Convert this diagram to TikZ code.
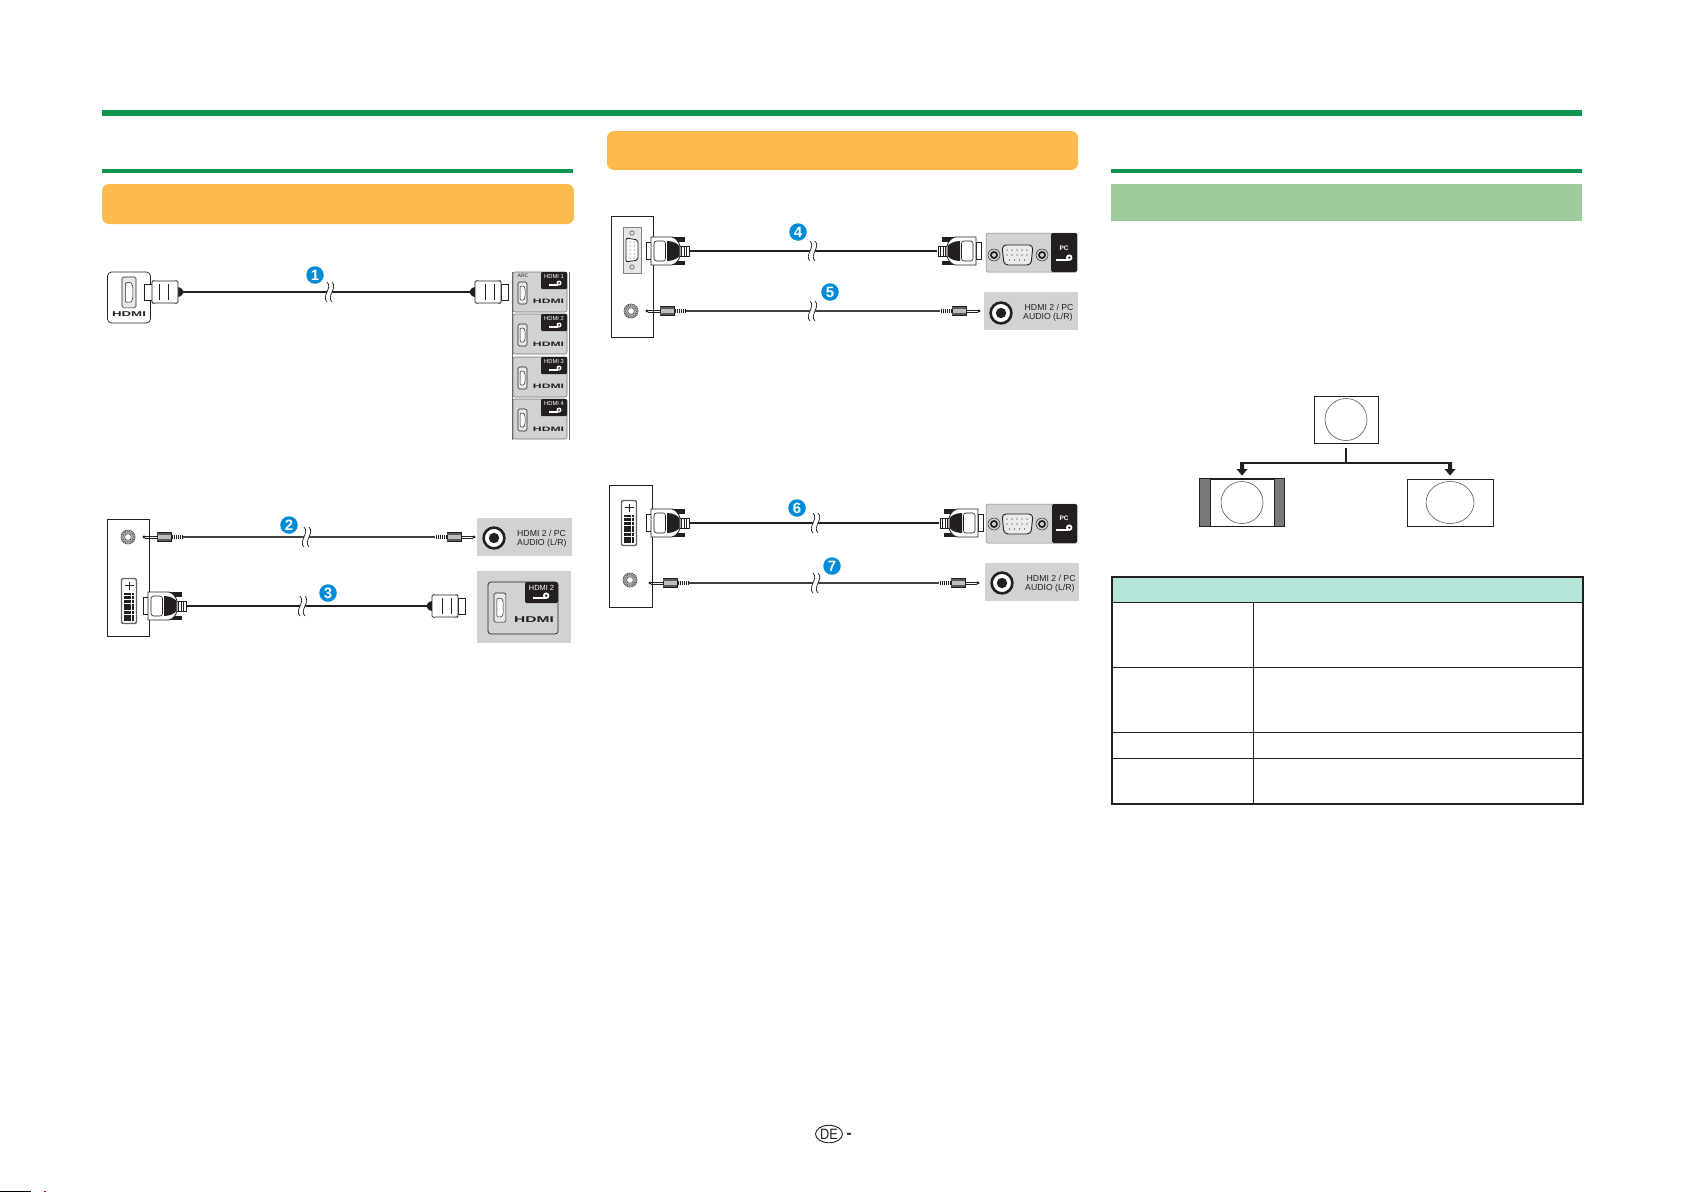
\documentclass[tikz,border=0pt]{standalone}
\usepackage{fontspec}
\setmainfont{Liberation Sans}
\usepackage{graphicx}
\usetikzlibrary{shapes.geometric}
\definecolor{rulegreen}{RGB}{12,150,78}
\definecolor{barorange}{RGB}{252,187,76}
\definecolor{bargreen}{RGB}{156,204,155}
\definecolor{headmint}{RGB}{181,230,218}
\definecolor{inkk}{RGB}{35,31,32}
\definecolor{panelgrey}{RGB}{209,210,212}
\definecolor{bargrey}{RGB}{122,120,121}
\definecolor{badgeblue}{RGB}{0,139,214}
\tikzset{
  x=1pt,y=-1pt,
  cable/.style={draw=inkk,line width=1.3pt},
  audiocable/.style={draw=inkk!85,line width=1.2pt},
  bandrule/.style={fill=rulegreen,draw=none},
  orangebar/.style={fill=barorange,draw=none,rounded corners=7pt},
  badge/.style={circle,fill=badgeblue,inner sep=0pt,minimum size=17.5pt,text=white,font=\bfseries\fontsize{15}{15}\selectfont},
  greypanel/.style={fill=panelgrey,draw=none},
  audiotext/.style={font=\fontsize{8.7}{9}\selectfont,text=inkk,align=left,anchor=west,inner sep=0pt},
  tabtext/.style={font=\fontsize{5.8}{6}\selectfont,text=white,inner sep=0pt},
  hlogo/.style={font=\bfseries\fontsize{6.4}{7}\selectfont,text=inkk,inner sep=0pt},
  hlogobig/.style={font=\bfseries\fontsize{8.4}{9}\selectfont,text=inkk,inner sep=0pt},
  screen/.style={draw=inkk,line width=0.8pt,fill=white},
  pict/.style={draw=black!65,line width=0.6pt},
  treeline/.style={draw=inkk,line width=1.5pt},
  tblthick/.style={draw=inkk,line width=1.6pt},
  tblthin/.style={draw=inkk,line width=0.8pt},
  breakmark/.pic={
    \fill[white] (-3,-7) .. controls (1,-3) and (-7,3) .. (-3,7) -- (2,7) .. controls (6,3) and (-2,-3) .. (2,-7) -- cycle;
    \draw[inkk,line width=0.7pt] (-3,-10) .. controls (3,-4) and (-9,4) .. (-3,10);
    \draw[inkk,line width=0.7pt] (2,-10) .. controls (8,-4) and (-4,4) .. (2,10);
  },
  hdmiplug/.pic={
    \fill[inkk] (0,-1.5) -- (2,-4) -- (5,-5) -- (5,5) -- (2,4) -- (0,1.5) -- cycle;
    \draw[inkk,line width=0.8pt,fill=white] (31,-8) rectangle (38.5,8);
    \draw[inkk,line width=0.8pt,fill=white,rounded corners=1.5pt] (5,-11.5) -- (8,-11) -- (29,-11) -- (31,-11.5) -- (31,11.5) -- (29,11) -- (8,11) -- (5,11.5) -- cycle;
    \draw[inkk,line width=0.6pt] (15,-8) -- (15,8) (24,-8) -- (24,8);
  },
  dsubplug/.pic={
    \fill[inkk] (5,-14) rectangle (18,-9.5);
    \fill[inkk] (5,9.5) rectangle (18,14);
    \draw[inkk,line width=0.7pt,fill=white] (1,-5) rectangle (11,5);
    \foreach \q in {3.5,6,8.5} \draw[inkk,line width=0.6pt] (\q,-5) -- (\q,5);
    \draw[inkk,line width=0.8pt,fill=white] (39,-8.5) rectangle (44,8.5);
    \draw[inkk,line width=0.8pt,fill=white] (39,-14) -- (18,-14) .. controls (14,-13) and (11,-9) .. (10,-5) -- (10,5) .. controls (11,9) and (14,13) .. (18,14) -- (39,14) -- cycle;
    \fill[inkk] (10.5,-5) .. controls (13,-8) and (18,-10) .. (23,-10) -- (23,10) .. controls (18,10) and (13,8) .. (10.5,5) -- cycle;
    \draw[inkk,line width=0.6pt,rounded corners=2.5pt] (24.5,-10) rectangle (36,10);
  },
  audioplug/.pic={
    \foreach \q in {1,3,5,7,9,11} \draw[inkk,line width=0.9pt] (\q,-2.4) -- (\q,2.4);
    \draw[inkk,line width=0.7pt,fill=black!25] (12,-4.6) rectangle (26,4.6);
    \fill[black!65] (12,-4.2) rectangle (26,-1.6);
    \fill[black!65] (12,1.6) rectangle (26,4.2);
    \draw[inkk,line width=0.8pt] (26,-0.9) -- (38,-0.9) (26,0.9) -- (38,0.9);
    \fill[inkk] (39,0) circle (1.7);
  },
  audiojack/.pic={
    \draw[black!65,line width=0.7pt] (0,0) circle (7) circle (5.4) circle (3.4);
    \draw[black!65,line width=1pt,densely dotted] (0,0) circle (6.2);
    \draw[black!45,line width=0.6pt] (0,0) circle (4.4);
  },
  rca/.pic={
    \draw[inkk,line width=2.6pt,fill=white] (0,0) circle (10.4);
    \fill[inkk] (0,0) circle (5.2);
  },
  vgaport/.pic={
    \draw[inkk,line width=0.5pt] (-23,0) circle (6);
    \fill[inkk] (-23,0) circle (4);
    \fill[panelgrey] (-23,0) circle (2);
    \draw[inkk,line width=0.5pt] (25,0) circle (6);
    \fill[inkk] (25,0) circle (4);
    \fill[panelgrey] (25,0) circle (2);
    \draw[inkk,line width=0.9pt,fill=panelgrey!45,rounded corners=4pt] (-15,-10) -- (16,-10) -- (14,10) -- (-13,10) -- cycle;
    \foreach \r/\n in {-5/5,0/5,5/4} \foreach \k in {1,...,\n}
      \fill[inkk] ({(\k-(\n+1)/2)*5},\r) circle (0.6);
  },
  dviport/.pic={
    \draw[black!60,line width=1.4pt,fill=white,rounded corners=2pt] (0.5,0.5) -- (15.5,0.5) -- (15.5,45.5) -- (0.5,45.5) -- cycle;
    \draw[inkk,line width=1pt] (8,3.5) -- (8,11.5) (3.5,7.5) -- (12.5,7.5);
    \foreach \r in {0,...,7} \foreach \k in {0,1,2,3} \fill[inkk] (2.6+\k*2.8,14.5+\r*3.7) rectangle +(2.1,2.9);
  },
  keyicon/.pic={
    \fill[white] (-6,1.2) rectangle (3,3.2);
    \fill[white] (4,0.5) circle (2.5);
    \fill[inkk] (4,0.5) circle (1);
  },
  hdmiportshape/.pic={
    \draw[inkk,line width=0.6pt,rounded corners=1.5pt,fill=panelgrey!50] (0,0) rectangle (9,22);
    \draw[inkk,line width=0.5pt,fill=white,rounded corners=1pt] (2.2,4) -- (6,4) -- (7,7) -- (7,15) -- (6,18) -- (2.2,18) -- cycle;
  },
  tvpanel/.pic={
    \draw[black!55,line width=0.6pt,fill=panelgrey,rounded corners=2pt] (0,0) rectangle (54,40);
    \fill[inkk,rounded corners=1pt] (28,0) rectangle (54,17);
    \pic at (5,10) {hdmiportshape};
    \pic at (42,10.5) {keyicon};
  },
}
\newcommand{\logoh}{\scalebox{1.9}[1]{HDMI}}
\begin{document}
\begin{tikzpicture}
\useasboundingbox (0,0) rectangle (1685,1192);
\fill[white] (0,0) rectangle (1685,1192);

% rules and bars
\fill[bandrule] (102,110) rectangle (1582,116);
\fill[bandrule] (102,169) rectangle (573,173);
\fill[bandrule] (1111,169) rectangle (1582,173);
\fill[orangebar] (102,184) rectangle (574,224);
\fill[orangebar] (607,131) rectangle (1078,170);
\fill[bargreen] (1111,184) rectangle (1582,221);

% ---- cable 1
\node[draw=inkk,line width=0.7pt,rounded corners=4pt,minimum width=43pt,minimum height=51pt,inner sep=0pt] (srcone) at (129,297.5) {};
\pic[xscale=1.55,yscale=1.4] at (122,277) {hdmiportshape};
\node[hlogo,font=\bfseries\fontsize{7}{7}\selectfont] (srconelogo) at (129,314.5) {\logoh};
\coordinate (c1a) at (183,292);
\coordinate (c1b) at (470,292);
\draw[cable] (c1a) -- (c1b);
\pic[rotate=180] at (c1a) {hdmiplug};
\pic at (c1b) {hdmiplug};
\pic at (330,292) {breakmark};
\node[badge] (b1) at (315,275) {1};

\pic at (513,272) {tvpanel};
\pic at (513,314) {tvpanel};
\pic at (513,357) {tvpanel};
\pic at (513,399) {tvpanel};
\draw[black!60,line width=0.7pt] (512,272) -- (512,440) (569,272) -- (569,440);
\node[tabtext] (t1) at (554,276.5) {HDMI 1};
\node[tabtext] (t2) at (554,318.5) {HDMI 2};
\node[tabtext] (t3) at (554,361.5) {HDMI 3};
\node[tabtext] (t4) at (554,403.5) {HDMI 4};
\node[inner sep=0pt,text=inkk,font=\fontsize{5}{6}\selectfont] (arc) at (523,276) {ARC};
\node[hlogo] (h1) at (548.5,301) {\logoh};
\node[hlogo] (h2) at (548.5,344) {\logoh};
\node[hlogo] (h3) at (548.5,386) {\logoh};
\node[hlogo] (h4) at (548.5,429) {\logoh};

% ---- cables 2, 3
\node[draw=inkk,line width=0.8pt,minimum width=42pt,minimum height=117pt,inner sep=0pt] (srctwo) at (128,577.5) {};
\pic at (128,537) {audiojack};
\pic at (121,578) {dviport};
\coordinate (c2a) at (183,537);
\coordinate (c2b) at (435,537);
\draw[audiocable] (c2a) -- (c2b);
\pic[rotate=180] at (c2a) {audioplug};
\pic at (c2b) {audioplug};
\pic at (307,537) {breakmark};
\node[badge] (b2) at (289,525) {2};
\node[greypanel,minimum width=95pt,minimum height=38pt,inner sep=0pt] (au1) at (524.5,537) {};
\pic at (494,538) {rca};
\node[audiotext] (au1t) at (517,538.5) {HDMI 2 / PC\\AUDIO (L/R)};

\coordinate (c3a) at (187,606);
\coordinate (c3b) at (427,606);
\draw[cable] (c3a) -- (c3b);
\pic[rotate=180] at (c3a) {dsubplug};
\pic at (c3b) {hdmiplug};
\pic at (303,606) {breakmark};
\node[badge] (b3) at (328,593) {3};
\node[greypanel,minimum width=94pt,minimum height=72pt,inner sep=0pt] (big) at (524,607) {};
\draw[inkk,line width=0.7pt,rounded corners=3pt,fill=panelgrey] (488,582) rectangle (558,634);
\fill[inkk,rounded corners=1.5pt] (525,582) rectangle (558,603);
\node[tabtext,font=\fontsize{7.4}{8}\selectfont] (bigt) at (541.5,587.5) {HDMI 2};
\pic[scale=1.3] at (541,595) {keyicon};
\pic[scale=1.32] at (494,593) {hdmiportshape};
\node[hlogobig] (bigh) at (534,620) {\scalebox{1.85}[1]{HDMI}};

% ---- cables 4, 5
\node[draw=inkk,line width=0.8pt,minimum width=42pt,minimum height=121pt,inner sep=0pt] (srcthree) at (632,276.5) {};
\draw[black!50,line width=0.6pt,fill=panelgrey!55] (623,227) rectangle (641,273);
\draw[inkk,line width=0.8pt,fill=white,rounded corners=2pt] (626,238) -- (638,240) -- (638,260) -- (626,262) -- cycle;
\draw[black!60,line width=0.7pt] (632,233) circle (2.2) (632,267) circle (2.2);
\foreach \q in {242,246,250,254,258} \fill[inkk] (630,\q) circle (0.5) (634,\q) circle (0.5);
\pic at (631,311) {audiojack};
\coordinate (c4a) at (690,251);
\coordinate (c4b) at (937,251);
\draw[cable] (c4a) -- (c4b);
\pic[rotate=180] at (c4a) {dsubplug};
\pic at (c4b) {dsubplug};
\pic at (813,251) {breakmark};
\node[badge] (b4) at (798,232) {4};
\draw[black!50,line width=0.5pt,fill=panelgrey,rounded corners=1.5pt] (986,233) rectangle (1077,272);
\fill[inkk,rounded corners=1.5pt] (1051,233) rectangle (1077,272);
\pic at (1017,255) {vgaport};
\node[tabtext,font=\bfseries\fontsize{6.5}{7}\selectfont] (pc1) at (1064,248) {PC};
\pic[scale=1.3] at (1064,257) {keyicon};

\coordinate (c5a) at (686,311);
\coordinate (c5b) at (940,311);
\draw[audiocable] (c5a) -- (c5b);
\pic[rotate=180] at (c5a) {audioplug};
\pic at (c5b) {audioplug};
\pic at (813,311) {breakmark};
\node[badge] (b5) at (830,292) {5};
\node[greypanel,minimum width=94pt,minimum height=38pt,inner sep=0pt] (au2) at (1031,311) {};
\pic at (1001,313) {rca};
\node[audiotext] (au2t) at (1023,312.5) {\hspace*{1.5pt}HDMI 2 / PC\\AUDIO (L/R)};

% ---- cables 6, 7
\node[draw=inkk,line width=0.8pt,minimum width=43pt,minimum height=122pt,inner sep=0pt] (srcfour) at (630.5,546) {};
\pic at (621,500) {dviport};
\pic at (630,580) {audiojack};
\coordinate (c6a) at (690,523);
\coordinate (c6b) at (939,523);
\draw[cable] (c6a) -- (c6b);
\pic[rotate=180] at (c6a) {dsubplug};
\pic at (c6b) {dsubplug};
\pic at (816,523) {breakmark};
\node[badge] (b6) at (797,508) {6};
\draw[black!50,line width=0.5pt,fill=panelgrey,rounded corners=1.5pt] (986,504) rectangle (1077,543);
\fill[inkk,rounded corners=1.5pt] (1052,504) rectangle (1077,543);
\pic at (1017,524) {vgaport};
\node[tabtext,font=\bfseries\fontsize{6.5}{7}\selectfont] (pc2) at (1064,518) {PC};
\pic[scale=1.3] at (1064,527) {keyicon};

\coordinate (c7a) at (689,583);
\coordinate (c7b) at (939,583);
\draw[audiocable] (c7a) -- (c7b);
\pic[rotate=180] at (c7a) {audioplug};
\pic at (c7b) {audioplug};
\pic at (816,583) {breakmark};
\node[badge] (b7) at (832,566) {7};
\node[greypanel,minimum width=94pt,minimum height=38pt,inner sep=0pt] (au3) at (1032,582) {};
\pic at (1002,583) {rca};
\node[audiotext] (au3t) at (1025,583.5) {\hspace*{1.5pt}HDMI 2 / PC\\AUDIO (L/R)};

% ---- aspect diagram
\node[screen,minimum width=64pt,minimum height=47pt,inner sep=0pt] (top) at (1346,419.5) {};
\draw[pict] (top.center) circle (21);
\node[screen,minimum width=84pt,minimum height=47pt,inner sep=0pt] (leftscr) at (1242,502.5) {};
\fill[bargrey] (leftscr.north west) rectangle (1210,526);
\fill[bargrey] (1274,479) rectangle (leftscr.south east);
\draw[inkk,line width=0.8pt] (leftscr.north west) rectangle (leftscr.south east);
\draw[inkk,line width=0.6pt] (1210,479) -- (1210,526) (1274,479) -- (1274,526);
\draw[pict] (leftscr.center) circle (21);
\node[screen,minimum width=86pt,minimum height=47pt,inner sep=0pt] (rightscr) at (1450,502.5) {};
\draw[pict] (rightscr.center) ellipse (24 and 21);

\coordinate (tstem) at (1346,448);
\coordinate (tjoin) at (1346,463);
\coordinate (tl) at (1242,463);
\coordinate (tr) at (1450,463);
\draw[treeline] (tstem) -- (tjoin);
\draw[treeline] (tl) -- (tr);
\fill[inkk] (1240,462) -- (1244,462) -- (1244,469) -- (1247.5,469) -- (1242,475.5) -- (1236.5,469) -- (1240,469) -- cycle;
\fill[inkk] (1448,462) -- (1452,462) -- (1452,469) -- (1455.5,469) -- (1450,475.5) -- (1444.5,469) -- (1448,469) -- cycle;

% ---- table
\fill[headmint] (1112,577) rectangle (1583,602);
\draw[tblthin] (1112,602) -- (1583,602);
\draw[tblthin] (1112,667) -- (1583,667);
\draw[tblthin] (1112,732) -- (1583,732);
\draw[tblthin] (1112,758) -- (1583,758);
\draw[tblthin] (1253,602) -- (1253,804);
\draw[tblthick] (1112,577) rectangle (1583,804);

% ---- page mark
\node[draw=inkk,line width=0.9pt,ellipse,minimum width=27pt,minimum height=17.5pt,inner sep=0pt,font=\fontsize{15}{15}\selectfont,text=inkk] (de) at (829,1134) {\scalebox{0.85}[1]{DE}};
\node[inner sep=0pt,font=\bfseries\fontsize{16}{16}\selectfont,text=inkk] (dash) at (849,1136) {-};

% stray edge marks
\fill[black] (0,1190.5) rectangle (31,1192);
\fill[red!70!black] (44,1190.5) rectangle (46,1192);
\end{tikzpicture}
\end{document}
